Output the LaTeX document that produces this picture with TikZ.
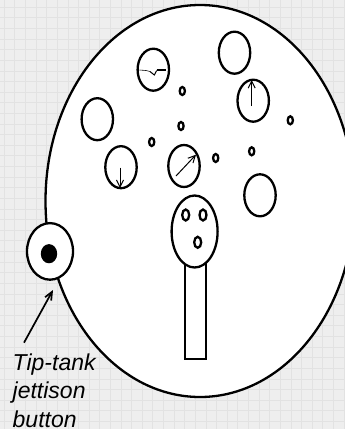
\documentclass[tikz,border=0pt]{standalone}
\usepackage{fontspec}
\setmainfont{Liberation Sans}
\usetikzlibrary{arrows.meta}
\definecolor{bgc}{HTML}{EEEEEE}
\definecolor{gridc}{HTML}{E2E2E2}
\tikzset{
 inst/.style={draw=black,line width=2.3pt,fill=white},
 knob/.style={draw=black,line width=2.3pt,fill=white},
 needle/.style={draw=black,line width=1pt,-{Straight Barb[length=7pt,width=7pt]}}
}
\begin{document}
\begin{tikzpicture}[x=1pt,y=-1pt]
\useasboundingbox (0,0) rectangle (345,429);
\fill[bgc] (0,0) rectangle (345,429);
\foreach \i in {0,...,32} \draw[gridc,line width=1pt] ({4.3+10.62*\i},0) -- ({4.3+10.62*\i},429);
\foreach \i in {0,...,40} \draw[gridc,line width=1pt] (0,{7.3+10.62*\i}) -- (345,{7.3+10.62*\i});
\begin{scope}
\clip (0,0) rectangle (345,429);
\draw[inst] (200,201) ellipse [x radius=154.5,y radius=196];
\end{scope}
% tip tank
\draw[inst] (50,251.4) ellipse [x radius=23,y radius=28.3];
\fill[black] (49,253.7) ellipse [x radius=8.2,y radius=9.6];
\coordinate (tipfrom) at (24,342.7);
\coordinate (tipto) at (53,290);
\draw[line width=1.7pt,-{Straight Barb[length=8pt,width=7pt]}] (tipfrom) -- (tipto);
% instruments
\draw[inst] (153.3,69.7) ellipse [x radius=15.7,y radius=21];
\draw[line width=0.6pt] (139.5,70) -- (146,70.5) -- (150,71.5);
\draw[line width=1pt] (150,71.5) -- (154.3,75) -- (156.7,70.5);
\draw[line width=1.5pt] (156.5,70) -- (166,70);
\draw[inst] (97.3,119.2) ellipse [x radius=15.7,y radius=21];
\draw[inst] (121,167.2) ellipse [x radius=15.7,y radius=21];
\coordinate (a1) at (120,167.7); \coordinate (a2) at (120,188);
\draw[needle] (a1) -- (a2);
\draw[inst] (234.5,52.7) ellipse [x radius=15.7,y radius=21];
\draw[inst] (253.2,100.7) ellipse [x radius=15.7,y radius=21];
\coordinate (b1) at (251.7,106); \coordinate (b2) at (251.7,80);
\draw[needle] (b1) -- (b2);
\draw[inst] (184,166) ellipse [x radius=15.7,y radius=21];
\coordinate (c1) at (176,176); \coordinate (c2) at (196,154.7);
\draw[needle] (c1) -- (c2);
\draw[inst] (260,195.3) ellipse [x radius=15.7,y radius=21];
% small knobs
\foreach \p in {(151.7,142),(182.3,91),(181,126),(215.7,158),(251.7,151.3),(290.3,120.3)}
  \draw[knob] \p ellipse [x radius=2.6,y radius=4];
% stick
\draw[inst] (184.7,262) rectangle (206,359);
\draw[inst] (194.6,231.5) ellipse [x radius=23,y radius=36];
\foreach \p in {(185.7,215),(203,215),(197.7,242.3)}
  \draw[knob] \p ellipse [x radius=3.5,y radius=5.5];
% label
\node[font=\itshape\fontsize{23}{28.7}\selectfont,align=left,anchor=base west,inner sep=0pt] (lab) at (12.5,427.4) {Tip-tank\\jettison\\button};
\end{tikzpicture}
\end{document}
